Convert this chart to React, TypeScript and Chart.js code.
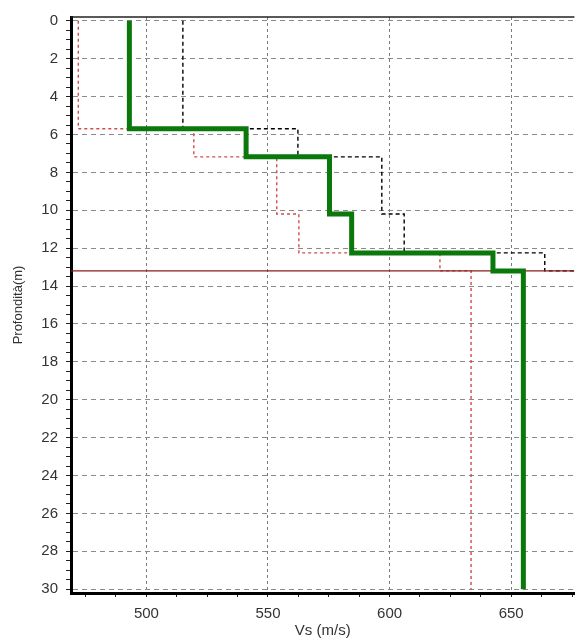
import React, { useEffect, useRef } from "react";
import { Chart, registerables } from "chart.js";

Chart.register(...registerables);

// Layer boundaries (depth, m) shared by the three profiles
const layerDepths = [0, 5.7, 7.18, 10.2, 12.25, 13.2, 30];
// Vs per layer (m/s)
const greenVs = [493, 541, 575.3, 584.4, 642.5, 655];
const blackVs = [515, 562.3, 596.8, 606, 663.8, 690];
const redVs = [472, 519.5, 553.6, 562.7, 620.7, 633.5];
// Reference (horizontal) depth line
const refDepth = 13.2;

const xMin = 469;
const xMax = 676;
const yMin = -0.2;
const yMax = 30.2;
const xMajorStep = 50;
const xMinorStep = 12.5;
const yMajorStep = 2;
const yMinorStep = 0.5;

const xTitle = "Vs (m/s)";
const yTitle = "Profondità(m)";

function stepPoints(vs: number[]) {
  const pts: { x: number; y: number }[] = [];
  for (let i = 0; i < vs.length; i++) {
    pts.push({ x: vs[i], y: layerDepths[i] });
    pts.push({ x: vs[i], y: layerDepths[i + 1] });
  }
  return pts;
}

const FONT = "'Liberation Sans', Arial, sans-serif";

const topBorder = {
  id: "topBorder",
  afterDraw(chart: any) {
    const { ctx, chartArea } = chart;
    ctx.save();
    ctx.strokeStyle = "#222";
    ctx.lineWidth = 1.5;
    ctx.beginPath();
    ctx.moveTo(chartArea.left, chartArea.top);
    ctx.lineTo(chartArea.right, chartArea.top);
    ctx.stroke();
    ctx.restore();
  },
};

export default function App() {
  const ref = useRef<HTMLCanvasElement>(null);
  useEffect(() => {
    const canvas = ref.current!;
    const chart = new Chart(canvas, {
      type: "scatter",
      data: {
        datasets: [
          {
            label: "Vs",
            data: stepPoints(greenVs),
            showLine: true,
            borderColor: "#0a780a",
            borderWidth: 5,
            pointRadius: 0,
            order: 0,
          },
          {
            label: "ref",
            data: [
              { x: xMin, y: refDepth },
              { x: xMax, y: refDepth },
            ],
            showLine: true,
            borderColor: "#8a1c1c",
            borderWidth: 1.3,
            pointRadius: 0,
            order: 1,
          },
          {
            label: "max",
            data: stepPoints(blackVs),
            showLine: true,
            borderColor: "#000",
            borderWidth: 1.4,
            borderDash: [4, 3],
            pointRadius: 0,
            order: 2,
          },
          {
            label: "min",
            data: stepPoints(redVs),
            showLine: true,
            borderColor: "#d44a4a",
            borderWidth: 1.4,
            borderDash: [3, 3],
            pointRadius: 0,
            order: 3,
          },
        ],
      },
      options: {
        responsive: false,
        animation: false,
        layout: { padding: { top: 15, left: 0, right: 0, bottom: 0 } },
        plugins: { legend: { display: false }, tooltip: { enabled: false } },
        scales: {
          x: {
            type: "linear",
            position: "bottom",
            min: xMin,
            max: xMax,
            afterFit: (s: any) => {
              s.height = 48;
            },
            ticks: {
              stepSize: xMinorStep,
              includeBounds: false,
              autoSkip: false,
              maxRotation: 0,
              padding: 8,
              color: "#333",
              font: { family: FONT, size: 15 },
              callback: (v: any) => (Math.abs(v % xMajorStep) < 1e-6 ? String(v) : ""),
            },
            grid: {
              color: (c: any) => (Math.abs(c.tick.value % xMajorStep) < 1e-6 ? "#7a7a7a" : "transparent"),
              lineWidth: 1,
              tickLength: 4,
              tickColor: "#222",
            },
            border: { display: true, color: "#000", width: 3, dash: [3, 3] },
            title: {
              display: true,
              text: xTitle,
              color: "#333",
              font: { family: FONT, size: 15 },
              padding: { top: 0, bottom: 1 },
            },
          },
          y: {
            type: "linear",
            reverse: true,
            min: yMin,
            max: yMax,
            afterFit: (s: any) => {
              s.width = 71;
            },
            ticks: {
              stepSize: yMinorStep,
              includeBounds: false,
              autoSkip: false,
              padding: 8,
              color: "#333",
              font: { family: FONT, size: 15 },
              callback: (v: any) => (Math.abs(v % yMajorStep) < 1e-6 ? String(v) : ""),
            },
            grid: {
              color: (c: any) => (Math.abs(c.tick.value % yMajorStep) < 1e-6 ? "#8a8a8a" : "transparent"),
              lineWidth: 1,
              tickLength: 5,
              tickColor: "#222",
            },
            border: { display: true, color: "#000", width: 3, dash: [5, 4] },
            title: {
              display: true,
              text: yTitle,
              color: "#333",
              font: { family: FONT, size: 13 },
              padding: { top: 11, bottom: 0 },
            },
          },
        },
      },
      plugins: [topBorder],
    });
    return () => chart.destroy();
  }, []);
  return (
    <div style={{ position: "fixed", left: 0, top: 0, width: 580, height: 641, background: "#fff" }}>
      <canvas ref={ref} width={580} height={641} />
    </div>
  );
}
